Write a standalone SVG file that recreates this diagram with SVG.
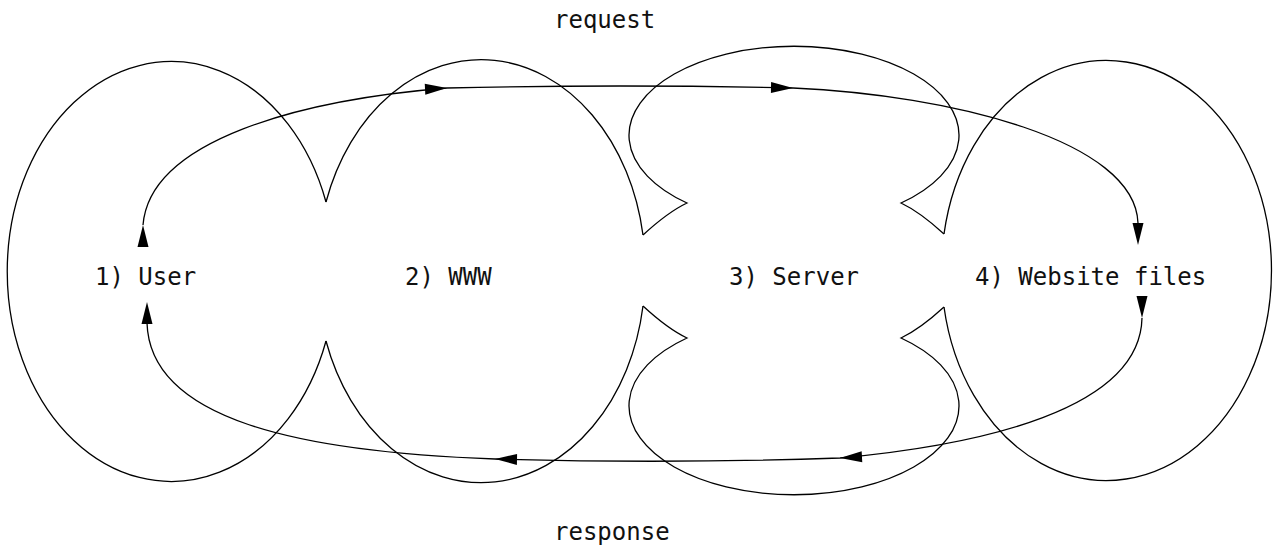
<svg xmlns="http://www.w3.org/2000/svg" xmlns:xlink="http://www.w3.org/1999/xlink" width="1279" height="552" viewBox="0 0 1279 552">
<style>
.sh{fill:none;stroke:#000;stroke-width:1.3}
.ed{fill:none;stroke:#000;stroke-width:1.3}
.ah{fill:#000;stroke:none}
text{font-family:"DejaVu Sans Mono","Liberation Mono",monospace;font-size:24px;fill:#111}
</style>
<defs>
<path id="arrow" d="M0,0 L-22,-5.5 L-22,5.5 Z"/>
</defs>
<rect width="1279" height="552" fill="#fff"/>
<g id="node-user">
<path class="sh" d="M326,202 A164,210 0 1,0 326,341"/>
<text x="95" y="285">1) User</text>
</g>
<g id="node-www">
<path class="sh" d="M326,202 A164,210 0 0,1 643,235"/>
<path class="sh" d="M326,341 A164,210 0 0,0 643,306"/>
<text x="405" y="285">2) WWW</text>
</g>
<g id="node-server">
<path class="sh" d="M643,235 Q668,212 687,203 A165,89 0 1,1 901,203 Q920,212 944,234"/>
<path class="sh" d="M643,306 Q668,329 687,338 A165,89 0 1,0 901,338 Q920,329 944,307"/>
<text x="729" y="285">3) Server</text>
</g>
<g id="node-files">
<path class="sh" d="M944,234 A165,210 0 1,1 944,307"/>
<text x="975" y="285">4) Website files</text>
</g>
<g id="connectors">
<g id="edge-request">
<path class="ed" d="M143,225 C150,140 300,100 447,88 Q620,84 793,88 C950,95 1135,140 1138,223"/>
<use class="ah" xlink:href="#arrow" transform="translate(143,225) rotate(-90)"/>
<use class="ah" xlink:href="#arrow" transform="translate(447,88) rotate(-3)"/>
<use class="ah" xlink:href="#arrow" transform="translate(793,88) rotate(1)"/>
<use class="ah" xlink:href="#arrow" transform="translate(1138,245) rotate(90)"/>
<text x="554" y="28">request</text>
</g>
<g id="edge-response">
<path class="ed" d="M1142,318 C1140,410 980,445 840,458 Q668,464 495,459 C300,452 150,420 147,323"/>
<use class="ah" xlink:href="#arrow" transform="translate(1142,318) rotate(90)"/>
<use class="ah" xlink:href="#arrow" transform="translate(840,458) rotate(177)"/>
<use class="ah" xlink:href="#arrow" transform="translate(495,459) rotate(181)"/>
<use class="ah" xlink:href="#arrow" transform="translate(147,302) rotate(-90)"/>
<text x="554" y="540">response</text>
</g>
</g>
</svg>
